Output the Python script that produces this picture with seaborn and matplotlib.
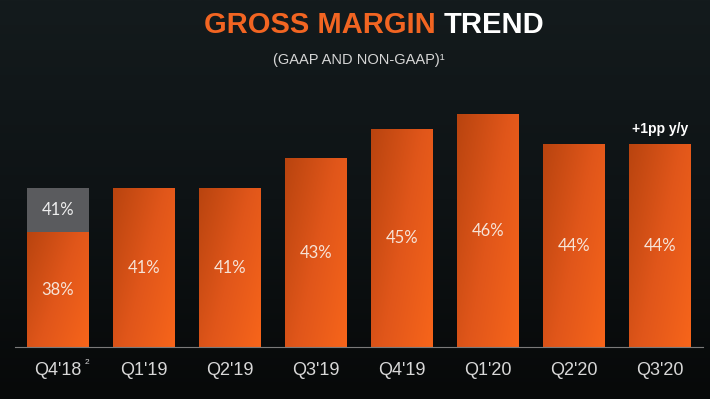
import numpy as np
import pandas as pd
import seaborn as sns
import matplotlib
matplotlib.use("Agg")
import matplotlib.pyplot as plt
from matplotlib.colors import LinearSegmentedColormap

# ---- data ----
quarters = ["Q4'18", "Q1'19", "Q2'19", "Q3'19", "Q4'19", "Q1'20", "Q2'20", "Q3'20"]
gaap_margin = [38, 41, 41, 43, 45, 46, 44, 44]
nongaap_quarters = ["Q4'18"]
nongaap_margin = [41]
title_orange = "GROSS MARGIN"
title_white = "TREND"
subtitle = "(GAAP AND NON-GAAP)\u00b9"
callout = "+1pp y/y"

df = pd.DataFrame({"quarter": quarters, "margin": gaap_margin})
df_ng = pd.DataFrame({"quarter": nongaap_quarters, "margin": nongaap_margin})

sns.set_theme(style="dark")
plt.rcParams["font.family"] = ["Liberation Sans", "DejaVu Sans"]

W, H = 710, 399
fig = plt.figure(figsize=(W / 100, H / 100), dpi=100)
fig.patch.set_facecolor("#0b0e0f")

# background gradient
bg = fig.add_axes([0, 0, 1, 1], zorder=-10)
grad = np.linspace(0, 1, 256).reshape(-1, 1)
bg_cmap = LinearSegmentedColormap.from_list("bg", ["#141b1d", "#0e1315", "#070909"])
bg.imshow(grad, aspect="auto", cmap=bg_cmap, extent=[0, 1, 0, 1], origin="upper")
bg.set_axis_off()

ax = fig.add_axes([15 / W, 52 / H, 688 / W, 247 / H])
ax.set_facecolor("none")

sns.barplot(data=df_ng, x="quarter", y="margin", order=quarters, color="#5a5b5e",
            saturation=1, width=0.72, ax=ax, zorder=2, linewidth=0, edgecolor="none")
n_gray = len(ax.patches)
sns.barplot(data=df, x="quarter", y="margin", order=quarters, color="#e35a1c",
            saturation=1, width=0.72, ax=ax, zorder=3, linewidth=0, edgecolor="none")

YLIM = (30.16, 47.0)
ax.set_xlim(-0.5, len(quarters) - 0.5)
ax.set_ylim(*YLIM)
ybot = YLIM[0]

# orange gradient on bars
orange_cmap = LinearSegmentedColormap.from_list("or", ["#b9440f", "#e0561a", "#f7651b"])
xx, yy = np.meshgrid(np.linspace(0, 1, 64), np.linspace(0, 1, 64))
g = (xx * 0.6 + yy * 0.4)
for p in ax.patches[n_gray:]:
    x0, w = p.get_x(), p.get_width()
    top = p.get_y() + p.get_height()
    ax.imshow(g, cmap=orange_cmap, extent=[x0, x0 + w, ybot, top],
              origin="upper", aspect="auto", zorder=3.5, interpolation="bilinear")
ax.set_xlim(-0.5, len(quarters) - 0.5)
ax.set_ylim(*YLIM)

label_font = ["Lato", "DejaVu Sans"]
# labels on gray (non-GAAP) segment
for q, v in zip(nongaap_quarters, nongaap_margin):
    i = quarters.index(q)
    g_top = gaap_margin[i]
    ax.text(i, (v + g_top) / 2, f"{v}%", ha="center", va="center",
            color="#eeeeee", fontsize=12, family=label_font, zorder=5)
# labels on orange bars
for i, v in enumerate(gaap_margin):
    ax.text(i, (v + ybot) / 2, f"{v}%", ha="center", va="center",
            color="#f6e4d8", fontsize=12, family=label_font, zorder=5)

# callout above last bar
ax.text(len(quarters) - 1, gaap_margin[-1] + 0.55, callout, ha="center", va="bottom",
        color="white", fontsize=10, fontweight="bold", zorder=5)

# axes styling
for s in ["top", "right", "left"]:
    ax.spines[s].set_visible(False)
ax.spines["bottom"].set_visible(True)
ax.spines["bottom"].set_color("#7a7a7a")
ax.spines["bottom"].set_linewidth(0.8)
ax.spines["bottom"].set_zorder(6)
ax.set_yticks([])
ax.set_xlabel("")
ax.set_ylabel("")
ax.grid(False)
ax.tick_params(axis="x", length=0, pad=11, labelsize=13, colors="#d8d8d8")

# footnote marker
fig.text(85 / W, 1 - 363 / H, "2", color="#d8d8d8", fontsize=6, ha="left", va="center")

# title
fig.text(436 / W, 1 - 33 / H, title_orange, color="#f26522", fontsize=21,
         fontweight="bold", ha="right", va="baseline")
fig.text(444 / W, 1 - 33 / H, title_white, color="white", fontsize=21,
         fontweight="bold", ha="left", va="baseline")
fig.text(359 / W, 1 - 64 / H, subtitle, color="#d6d6d6", fontsize=10.5,
         ha="center", va="baseline")

fig.savefig("out.png", dpi=100, facecolor=fig.get_facecolor())
